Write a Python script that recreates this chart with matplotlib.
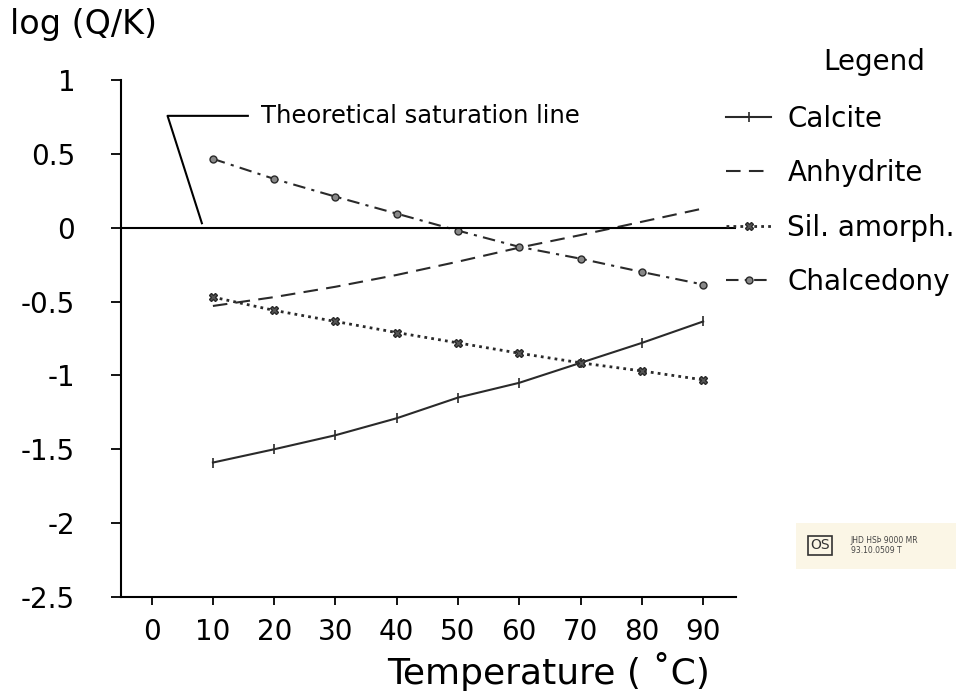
import matplotlib
matplotlib.use('Agg')
import matplotlib.pyplot as plt

temps = [10, 20, 30, 40, 50, 60, 70, 80, 90]
calcite = [-1.59, -1.50, -1.405, -1.29, -1.15, -1.05, -0.915, -0.78, -0.635]
anhydrite = [-0.53, -0.47, -0.40, -0.32, -0.23, -0.135, -0.05, 0.04, 0.13]
sil_amorph = [-0.47, -0.56, -0.635, -0.71, -0.78, -0.85, -0.915, -0.97, -1.03]
chalcedony = [0.466, 0.33, 0.21, 0.095, -0.02, -0.13, -0.21, -0.30, -0.385]

x_ticks = [0, 10, 20, 30, 40, 50, 60, 70, 80, 90]
y_ticks = [1, 0.5, 0, -0.5, -1, -1.5, -2, -2.5]
y_labels = ['1', '0.5', '0', '-0.5', '-1', '-1.5', '-2', '-2.5']

plt.rcParams['font.family'] = ['DejaVu Sans']
ink = '#2a2a2a'

fig = plt.figure(figsize=(9.71, 6.94), dpi=100)
ax = fig.add_axes([0.1246, 0.1398, 0.633, 0.745])

ax.plot(temps, calcite, color=ink, lw=1.5, ls='-', marker='|', ms=7, mew=1.2, label='Calcite')
ax.plot(temps, anhydrite, color=ink, lw=1.5, ls=(0, (7, 4)), label='Anhydrite')
ax.plot(temps, sil_amorph, color=ink, lw=2.0, ls=(0, (1, 1.5)), marker='X', ms=6,
        mfc='#555555', mec=ink, label='Sil. amorph.')
ax.plot(temps, chalcedony, color=ink, lw=1.5, ls=(0, (6, 3, 1.5, 3)), marker='o', ms=5,
        mfc='#888888', mec=ink, label='Chalcedony')

# saturation line and its pointer
ax.axhline(0, color='black', lw=1.5)
ax.plot([15.7, 2.6, 8.2], [0.757, 0.757, 0.03], color='black', lw=1.5)
ax.text(17.8, 0.757, 'Theoretical saturation line', fontsize=17.5, va='center', ha='left')

ax.set_xlim(-5, 95.3)
ax.set_ylim(-2.5, 1)
ax.set_xticks(x_ticks)
ax.set_yticks(y_ticks)
ax.set_yticklabels(y_labels)
for s in ['top', 'right']:
    ax.spines[s].set_visible(False)
for s in ['left', 'bottom']:
    ax.spines[s].set_linewidth(1.5)
ax.tick_params(axis='y', direction='out', length=7, width=1.3, pad=26, labelsize=20)
ax.tick_params(axis='x', direction='out', length=6, width=1.3, pad=9, labelsize=20)

fig.text(0.01, 0.965, 'log (Q/K)', fontsize=24, ha='left', va='center')
fig.text(0.565, 0.032, 'Temperature ( \u02daC)', fontsize=26, ha='center', va='center')

fig.text(0.90, 0.911, 'Legend', fontsize=20, ha='center', va='center')
leg = fig.legend(loc='upper left', bbox_to_anchor=(0.748, 0.849), frameon=False,
                 fontsize=20, handlelength=1.6, handletextpad=0.6, labelspacing=0.95,
                 borderpad=0, borderaxespad=0)

# stamp at lower right
fig.patches.append(plt.Rectangle((0.820, 0.180), 0.165, 0.066, transform=fig.transFigure,
                                 fc='#fbf6e6', ec='none', zorder=-1))
fig.text(0.834, 0.214, 'OS', fontsize=10, color='#333333', ha='left', va='center',
         bbox=dict(boxstyle='square,pad=0.15', fc='none', ec='#333333', lw=1.2))
fig.text(0.876, 0.214, 'JHD HS\u00de 9000 MR\n93.10.0509 T', fontsize=5.5, color='#444444',
         ha='left', va='center', linespacing=1.1)

fig.savefig('out.png', dpi=100)
